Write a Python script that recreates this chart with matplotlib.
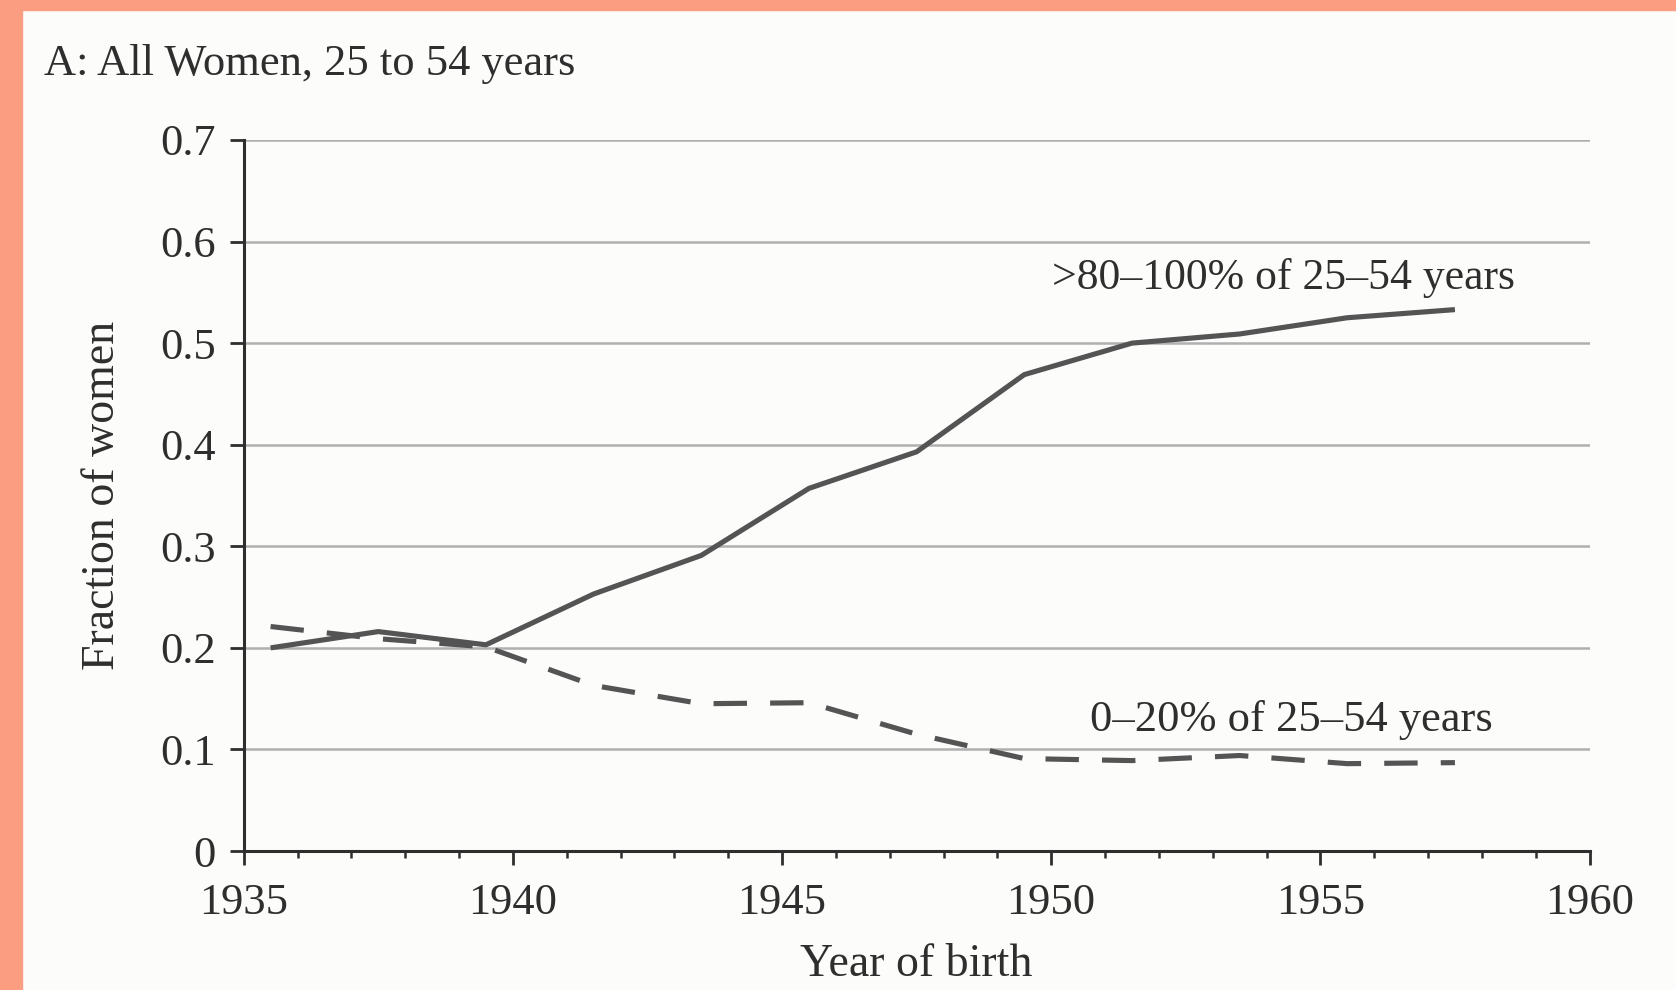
import numpy as np
import matplotlib.pyplot as plt
from matplotlib.patches import Rectangle
from matplotlib.ticker import MultipleLocator

# birth cohorts (two-year groups, plotted at midpoints)
years = [1935.5, 1937.5, 1939.5, 1941.5, 1943.5, 1945.5,
         1947.5, 1949.5, 1951.5, 1953.5, 1955.5, 1957.5]
high_share = [0.200, 0.216, 0.203, 0.253, 0.291, 0.357,
              0.393, 0.469, 0.500, 0.509, 0.525, 0.533]
low_share = [0.221, 0.209, 0.201, 0.163, 0.145, 0.146,
             0.115, 0.091, 0.089, 0.094, 0.086, 0.087]

y_ticks = [0, 0.1, 0.2, 0.3, 0.4, 0.5, 0.6, 0.7]
y_labels = ["0", "0.1", "0.2", "0.3", "0.4", "0.5", "0.6", "0.7"]
x_ticks = [1935, 1940, 1945, 1950, 1955, 1960]

plt.rcParams['font.family'] = ['Liberation Serif', 'DejaVu Serif']
ink = '#2e2e2e'
line_col = '#545454'

fig = plt.figure(figsize=(16.76, 9.9), dpi=100)
fig.patch.set_facecolor('#fcfcfb')

# salmon frame on the left and top
fig.patches.append(Rectangle((0, 0), 0.0131, 1, transform=fig.transFigure,
                             color='#fb9d80', zorder=0))
fig.patches.append(Rectangle((0, 0.9899), 1, 0.0101, transform=fig.transFigure,
                             color='#fb9d80', zorder=0))

ax = fig.add_axes([0.1454, 0.1404, 0.803, 0.7182])
ax.set_facecolor('none')

ax.plot(years, high_share, color=line_col, lw=3.7, solid_capstyle='butt')
ax.plot(years, low_share, color=line_col, lw=3.7, dashes=(6.5, 4.5),
        dash_capstyle='butt')

ax.set_xlim(1935, 1960)
ax.set_ylim(0, 0.7)
ax.set_xticks(x_ticks)
ax.xaxis.set_minor_locator(MultipleLocator(1))
ax.set_yticks(y_ticks)
ax.set_yticklabels(y_labels)

for y in y_ticks[1:]:
    ax.axhline(y, color='#b0b0b0', lw=1.8, zorder=0)

for s in ['top', 'right']:
    ax.spines[s].set_visible(False)
for s in ['left', 'bottom']:
    ax.spines[s].set_color(ink)
    ax.spines[s].set_linewidth(2.2)

ax.tick_params(axis='y', which='major', direction='out', length=10,
               width=2, color=ink, labelsize=32, labelcolor=ink, pad=10)
ax.tick_params(axis='x', which='major', direction='out', length=10,
               width=2, color=ink, labelsize=32, labelcolor=ink, pad=13)
ax.tick_params(axis='x', which='minor', direction='out', length=5,
               width=1.8, color=ink)

ax.set_xlabel("Year of birth", fontsize=33, color=ink, labelpad=15)
ax.set_ylabel("Fraction of women", fontsize=33, color=ink, labelpad=26)

fig.text(0.026, 0.924, "A: All Women, 25 to 54 years", fontsize=32,
         color=ink, ha='left', va='baseline')

ax.text(1954.32, 0.564, ">80\u2013100% of 25\u201354 years", fontsize=31.5,
        color=ink, ha='center', va='center')
ax.text(1954.47, 0.129, "0\u201320% of 25\u201354 years", fontsize=32,
        color=ink, ha='center', va='center')

fig.savefig("out.png", dpi=100, facecolor=fig.get_facecolor())
